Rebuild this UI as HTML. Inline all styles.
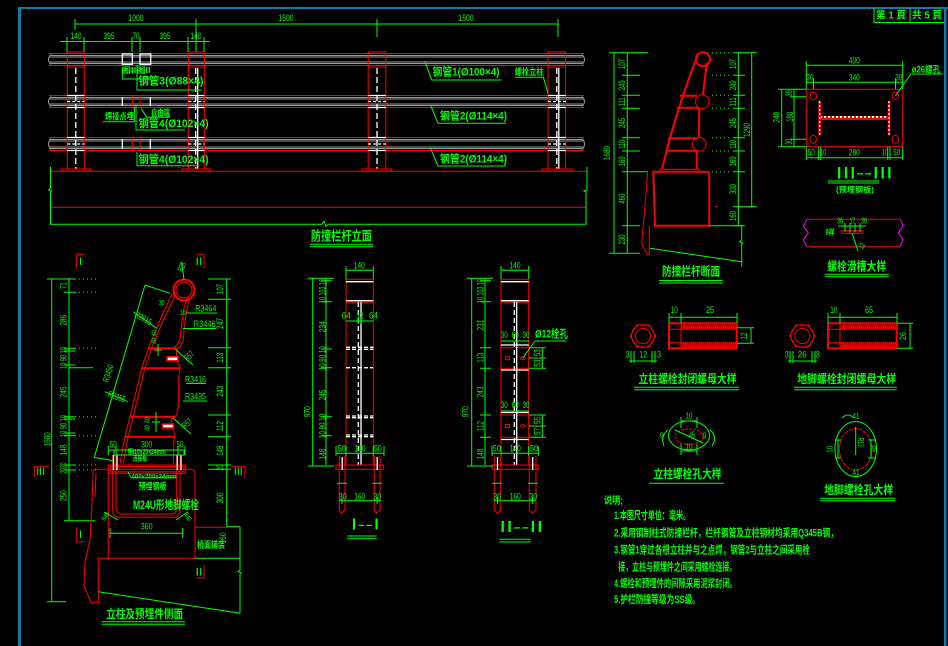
<!DOCTYPE html>
<html><head><meta charset="utf-8"><style>
html,body{margin:0;padding:0;background:#000;width:948px;height:646px;overflow:hidden}
svg{display:block}
text{font-family:"Liberation Sans","Noto Sans CJK SC",sans-serif;fill:#00ff00;dominant-baseline:central}
text.b{font-weight:bold}
.g{stroke:#00ff00;fill:none;stroke-width:1}
.r{stroke:#ff0000;fill:none;stroke-width:1}
.r2{stroke:#ff0000;fill:none;stroke-width:2}
.w{stroke:#ffffff;fill:none;stroke-width:1.3}
.gr{stroke:#9a9a9a;fill:none;stroke-width:1}
.m{text-anchor:middle}
</style></head><body>
<svg width="948" height="646" viewBox="0 0 948 646" xmlns="http://www.w3.org/2000/svg">
<defs>
<pattern id="h" width="2" height="2" patternUnits="userSpaceOnUse"><rect width="1" height="1" fill="#ff0000"/><rect x="1" y="1" width="1" height="1" fill="#ff0000"/></pattern>
<pattern id="hw" width="4" height="4" patternUnits="userSpaceOnUse"><rect width="4" height="4" fill="#ff0000"/><rect width="2" height="2" fill="#ffffff"/></pattern>
</defs>
<rect width="948" height="646" fill="#000"/>
<!-- frame -->
<rect x="18" y="7" width="930" height="2" fill="#1778a5"/>
<rect x="18" y="7" width="3" height="639" fill="#1778a5"/>
<rect x="944" y="7" width="2.5" height="639" fill="#1778a5"/>
<path class="g" d="M874,8 V22.5 H944 M910,8 V22.5"/>
<text x="891" y="16" class="m b" font-size="10" textLength="30" lengthAdjust="spacingAndGlyphs">第 1 頁</text>
<text x="927" y="16" class="m b" font-size="10" textLength="30" lengthAdjust="spacingAndGlyphs">共 5 頁</text>

<!-- ============ ELEVATION ============ -->
<path class="g" d="M75,24 H558 M75,19 V30 M196,19 V52 M377,19 V37 M558,19 V37"/>
<text x="136" y="18" class="m" font-size="9" textLength="15" lengthAdjust="spacingAndGlyphs">1000</text>
<text x="286" y="18" class="m" font-size="9" textLength="15" lengthAdjust="spacingAndGlyphs">1500</text>
<text x="466" y="18" class="m" font-size="9" textLength="15" lengthAdjust="spacingAndGlyphs">1500</text>
<path class="g" d="M60,41.5 H210 M67,37 V52 M84,37 V52 M132,37 V52 M140,37 V52 M188,37 V52 M204,37 V52"/>
<text x="76" y="36" class="m" font-size="9" textLength="11" lengthAdjust="spacingAndGlyphs">140</text>
<text x="109" y="36" class="m" font-size="9" textLength="11" lengthAdjust="spacingAndGlyphs">395</text>
<text x="136" y="36" class="m" font-size="9" textLength="7" lengthAdjust="spacingAndGlyphs">70</text>
<text x="165" y="36" class="m" font-size="9" textLength="11" lengthAdjust="spacingAndGlyphs">395</text>
<text x="196" y="36" class="m" font-size="9" textLength="11" lengthAdjust="spacingAndGlyphs">140</text>

<!-- rails -->
<g>
<path class="r" d="M49,53.5 H584 M49,65.5 H584 M49,95.5 H584 M49,107.5 H584 M49,137.5 H584 M49,150.5 H584"/>
<path class="gr" d="M50,55.5 H583 M50,57 H583 M50,62 H583 M50,63.5 H583 M50,97.5 H583 M50,99 H583 M50,104 H583 M50,105.5 H583 M50,139.5 H583 M50,141 H583 M50,147 H583 M50,148.5 H583"/>
<path class="gr" d="M51,54.5 Q46,59.5 51,64.5 M51,96.5 Q46,101.5 51,106.5 M51,138.5 Q46,144 51,149.5 M582,54.5 Q587,59.5 582,64.5 M582,96.5 Q587,101.5 582,106.5 M582,138.5 Q587,144 582,149.5"/>
</g>
<!-- junction -->
<rect x="132.3" y="53.5" width="7.7" height="12" fill="#000" class="r"/>
<rect x="132.3" y="95.5" width="7.7" height="12" fill="#000" class="r"/>
<rect x="132.3" y="137.5" width="7.7" height="13" fill="#000" class="r"/>
<rect x="122.3" y="54" width="10" height="10.3" class="w"/>
<rect x="140" y="54" width="10.7" height="10.3" class="w"/>
<path class="w" stroke-width="1" d="M122.3,97 V106 M150.3,97 V106 M122.3,139 V149 M150.3,139 V149"/>
<!-- posts -->
<g>
<rect x="67.3" y="52" width="17" height="117" fill="#000" class="r"/>
<rect x="188.3" y="52" width="16" height="117" fill="#000" class="r"/>
<rect x="368.2" y="52" width="17.6" height="117" fill="#000" class="r"/>
<rect x="548" y="52" width="17.6" height="117" fill="#000" class="r"/>
<path class="r" d="M67.3,67 H84.3 M188.3,67 H204.3 M368.2,67 H385.8 M548,67 H565.6"/>
<path class="w" stroke-width="1" d="M67.3,95.5 H84.3 M67.3,107.5 H84.3 M67.3,137.5 H84.3 M67.3,150.5 H84.3 M188.3,95.5 H204.3 M188.3,107.5 H204.3 M188.3,137.5 H204.3 M188.3,150.5 H204.3 M368.2,95.5 H385.8 M368.2,107.5 H385.8 M368.2,137.5 H385.8 M368.2,150.5 H385.8 M548,95.5 H565.6 M548,107.5 H565.6 M548,137.5 H565.6 M548,150.5 H565.6"/>
<path class="w" stroke-width="1.6" stroke-dasharray="3,2" d="M67.3,101.5 H84.3 M67.3,144 H84.3 M188.3,101.5 H204.3 M188.3,144 H204.3 M368.2,101.5 H385.8 M368.2,144 H385.8 M548,101.5 H565.6 M548,144 H565.6"/>
<path class="w" stroke-width="1.6" stroke-dasharray="6,3" d="M75.8,68 V169 M195.7,68 V169 M377,68 V169 M556.8,68 V169"/>
<path class="w" stroke-width="1" d="M197.7,68 V169 M558.8,68 V169"/>
<path class="r" d="M61,169 H90.7 V171 H61 Z M182,169 H210.5 V171 H182 Z M362,169 H392 V171 H362 Z M542,169 H572 V171 H542 Z"/>
</g>
<!-- ground -->
<path class="r" d="M50.5,171.3 H586 M50.5,207.3 H586"/>
<path class="g" d="M50.5,166.7 V188 l-2,2 l3,1 l-1,1 V224.3 H322 l2,-3 l2,5 l2,-2 H586 V192 l-2,-1 l3,-1 V166.7"/>
<!-- elevation labels -->
<path class="g" d="M424.8,61 L431.7,80 H501.4"/>
<text x="432.5" y="72.7" class="b" font-size="11" textLength="67" lengthAdjust="spacingAndGlyphs">钢管1(Ø100×4)</text>
<path class="g" d="M514.7,77.3 H543.4 L548,93.3"/>
<text x="514.7" y="72" class="b" font-size="9" textLength="29" lengthAdjust="spacingAndGlyphs">螺栓立柱</text>
<path class="g" d="M430.5,105 L438,123.3 H506"/>
<text x="440" y="116.7" class="b" font-size="11" textLength="67" lengthAdjust="spacingAndGlyphs">钢管2(Ø114×4)</text>
<path class="g" d="M430.5,148.3 L438,166 H506"/>
<text x="440" y="159.3" class="b" font-size="11" textLength="67" lengthAdjust="spacingAndGlyphs">钢管2(Ø114×4)</text>
<path class="g" d="M137,65 V90 H201.7"/>
<text x="138.5" y="81.7" class="b" font-size="11" textLength="65" lengthAdjust="spacingAndGlyphs">钢管3(Ø88×4)</text>
<text x="121.7" y="70.7" class="b" font-size="8" textLength="29" lengthAdjust="spacingAndGlyphs">图II图II</text>
<path class="g" d="M122.3,68 V79 H150"/>
<path class="g" d="M136,106 V130 H185"/>
<text x="138.5" y="124" class="b" font-size="11" textLength="70" lengthAdjust="spacingAndGlyphs">钢管4(Ø102×4)</text>
<path class="g" d="M141,108.3 L146.7,117.3 H170"/>
<text x="151" y="113" class="b" font-size="9" textLength="19" lengthAdjust="spacingAndGlyphs">自由端</text>
<path class="g" d="M134.3,106.7 V121.7 H103"/>
<text x="105" y="116.5" class="b" font-size="9" textLength="29" lengthAdjust="spacingAndGlyphs">焊接点埋</text>
<path class="g" d="M137,152 V165.7 H198"/>
<text x="138.5" y="160" class="b" font-size="11" textLength="70" lengthAdjust="spacingAndGlyphs">钢管4(Ø102×4)</text>
<text x="341.4" y="236" class="m b" font-size="13" textLength="61" lengthAdjust="spacingAndGlyphs">防撞栏杆立面</text>
<path class="g" stroke-width="1.5" d="M310,244.3 H373"/>
<path class="g" d="M310,246.8 H373"/>

<!-- ============ CROSS SECTION ============ -->
<path class="g" d="M614,52.7 V253.3 M609,52.7 H648 M609,253.3 H640 M627.3,52.7 V253.3"/>
<path class="g" d="M622,75.3 H640 M622,95.3 H640 M622,108.3 H640 M622,137.7 H640 M622,151 H640 M622,171.7 H648 M622,225.7 H640"/>
<path class="g" d="M733,52.7 H757 M733,75.3 H745 M733,95.3 H745 M733,108.3 H745 M733,137.7 H745 M733,151 H745 M733,171.7 H745 M733,206.7 H757 M733,225.7 H745 M738.3,52.7 V225.7 M751.7,52.7 V206.7"/>
<path class="g" stroke-dasharray="1,3" d="M712,52.7 H732 M712,75.3 H732 M712,95.3 H732 M712,108.3 H732 M712,137.7 H732 M712,151 H732 M712,171.7 H732"/>
<g font-size="9">
<text class="m" transform="translate(607,153) rotate(-90)" textLength="14" lengthAdjust="spacingAndGlyphs">1680</text>
<text class="m" transform="translate(622,64) rotate(-90)" textLength="10" lengthAdjust="spacingAndGlyphs">107</text>
<text class="m" transform="translate(622,85.3) rotate(-90)" textLength="10" lengthAdjust="spacingAndGlyphs">249</text>
<text class="m" transform="translate(622,101.8) rotate(-90)" textLength="9" lengthAdjust="spacingAndGlyphs">111</text>
<text class="m" transform="translate(622,123) rotate(-90)" textLength="10" lengthAdjust="spacingAndGlyphs">245</text>
<text class="m" transform="translate(622,144.3) rotate(-90)" textLength="9" lengthAdjust="spacingAndGlyphs">110</text>
<text class="m" transform="translate(622,161.3) rotate(-90)" textLength="10" lengthAdjust="spacingAndGlyphs">169</text>
<text class="m" transform="translate(622,198.7) rotate(-90)" textLength="10" lengthAdjust="spacingAndGlyphs">460</text>
<text class="m" transform="translate(622,239.5) rotate(-90)" textLength="10" lengthAdjust="spacingAndGlyphs">230</text>
<text class="m" transform="translate(733,64) rotate(-90)" textLength="10" lengthAdjust="spacingAndGlyphs">107</text>
<text class="m" transform="translate(733,85.3) rotate(-90)" textLength="10" lengthAdjust="spacingAndGlyphs">249</text>
<text class="m" transform="translate(733,101.8) rotate(-90)" textLength="9" lengthAdjust="spacingAndGlyphs">111</text>
<text class="m" transform="translate(733,123) rotate(-90)" textLength="10" lengthAdjust="spacingAndGlyphs">245</text>
<text class="m" transform="translate(733,144.3) rotate(-90)" textLength="9" lengthAdjust="spacingAndGlyphs">110</text>
<text class="m" transform="translate(733,161.3) rotate(-90)" textLength="10" lengthAdjust="spacingAndGlyphs">169</text>
<text class="m" transform="translate(733,189) rotate(-90)" textLength="10" lengthAdjust="spacingAndGlyphs">300</text>
<text class="m" transform="translate(733,216) rotate(-90)" textLength="10" lengthAdjust="spacingAndGlyphs">160</text>
<text class="m" transform="translate(747,130) rotate(-90)" textLength="14" lengthAdjust="spacingAndGlyphs">1290</text>
</g>
<!-- post shape -->
<circle cx="703" cy="59.3" r="7" class="r2"/>
<circle cx="702.3" cy="101.7" r="6.8" class="r"/>
<circle cx="699.3" cy="144.3" r="6.8" class="r"/>
<path class="r2" d="M697.7,55 Q676,110 662,169.3"/>
<path class="r2" d="M706.7,62.7 L703,95 M699.3,108.3 L698.7,137.7 M696.7,150.5 V169.3"/>
<path class="r2" d="M680,95.7 H697 M676.7,107.7 H699 M667.7,138.3 H697 M666,150.7 H697"/>
<rect x="660" y="169.3" width="39.3" height="2.4" class="r"/>
<path class="r2" d="M653.3,171.7 H707 Q709.3,172 709.3,175 V225.7 H655 Z"/>
<path class="r" d="M647.7,171.7 L645,205 L641.7,243.3 L646.7,254.3 H649.3 V225.7"/>
<path class="r" d="M715,206.7 H718"/>
<path class="g" d="M709.3,225.7 H741.7 V240 l-2,1.5 l3,1.5 l-1,1 V266.7 M650,248.3 L741.7,261.7"/>
<text x="691" y="271.7" class="m b" font-size="12" textLength="58" lengthAdjust="spacingAndGlyphs">防撞栏杆断面</text>
<path class="g" stroke-width="1.5" d="M659,280.5 H722.7"/>
<path class="g" d="M659,283 H722.7"/>

<!-- ============ III-III ============ -->
<rect x="806.3" y="89.3" width="96.4" height="57.4" class="r"/>
<ellipse cx="813.3" cy="96" rx="3.2" ry="4" class="r"/>
<ellipse cx="895.3" cy="96" rx="3.2" ry="4" class="r"/>
<ellipse cx="813.3" cy="139.3" rx="3.2" ry="4" class="r"/>
<ellipse cx="895.3" cy="139.3" rx="3.2" ry="4" class="r"/>
<rect x="818.3" y="101" width="2.6" height="33.7" fill="#ff0000"/>
<rect x="887.7" y="101" width="2.6" height="33.7" fill="#ff0000"/>
<path class="w" stroke-width="1" stroke-dasharray="2,2" d="M819.6,101 V134.7 M889,101 V134.7"/>
<rect x="820.9" y="116" width="66.8" height="4" fill="url(#hw)"/>
<path class="g" d="M806.3,65.3 H902.7 M806.3,61 V89 M902.7,61 V89 M806.3,82.3 H902.7 M813.5,78 V89 M895.5,78 V89"/>
<g font-size="9">
<text x="854.3" y="60.7" class="m" textLength="11" lengthAdjust="spacingAndGlyphs">400</text>
<text x="810" y="77.3" class="m" textLength="7" lengthAdjust="spacingAndGlyphs">30</text>
<text x="854.3" y="77.3" class="m" textLength="11" lengthAdjust="spacingAndGlyphs">340</text>
<text x="898.7" y="77.3" class="m" textLength="7" lengthAdjust="spacingAndGlyphs">30</text>
<text x="811.3" y="152.7" class="m" textLength="7" lengthAdjust="spacingAndGlyphs">50</text>
<text x="823.3" y="152.7" class="m" textLength="6" lengthAdjust="spacingAndGlyphs">10</text>
<text x="854.3" y="152.7" class="m" textLength="11" lengthAdjust="spacingAndGlyphs">280</text>
<text x="885" y="152.7" class="m" textLength="6" lengthAdjust="spacingAndGlyphs">10</text>
<text x="896.7" y="152.7" class="m" textLength="7" lengthAdjust="spacingAndGlyphs">50</text>
<text class="m" transform="translate(776.7,117.3) rotate(-90)" textLength="11" lengthAdjust="spacingAndGlyphs">240</text>
<text class="m" transform="translate(789,93.3) rotate(-90)" textLength="6" lengthAdjust="spacingAndGlyphs">30</text>
<text class="m" transform="translate(790,116.7) rotate(-90)" textLength="10" lengthAdjust="spacingAndGlyphs">180</text>
<text class="m" transform="translate(789,141.7) rotate(-90)" textLength="6" lengthAdjust="spacingAndGlyphs">30</text>
</g>
<path class="g" d="M806.3,157.7 H902.7 M806.3,146.7 V160 M818.3,146.7 V160 M820.7,146.7 V160 M887.7,146.7 V160 M890,146.7 V160 M902.7,146.7 V160"/>
<path class="g" d="M781.7,89.3 V146.7 M778,89.3 H806.3 M778,146.7 H806.3 M794,89.3 V146.7 M790,96.7 H806 M790,139.3 H806"/>
<path class="g" d="M895.3,96 L911,74 H942.7"/>
<text x="911.7" y="69.3" class="b" font-size="9" textLength="29" lengthAdjust="spacingAndGlyphs">ø26螺孔</text>
<text x="864.3" y="173" class="m" font-size="17" textLength="57" lengthAdjust="spacingAndGlyphs">III--III</text>
<path class="g" stroke-width="1.5" d="M828,181 H879.3"/>
<path class="g" d="M828,183 H879.3"/>
<text x="855" y="190" class="m b" font-size="8" textLength="38" lengthAdjust="spacingAndGlyphs">(预埋钢板)</text>

<!-- bolt slot -->
<path class="r" d="M807,219.3 H900 M807,246.7 H900"/>
<path stroke="#ff00ff" fill="none" d="M807,219.3 L803.3,226 L808.3,233 L803.3,240 L807,246.7 M900,219.3 L903.3,226 L898.3,233 L903.3,240 L900,246.7"/>
<rect x="841.7" y="230.7" width="21" height="2.6" class="r"/>
<ellipse cx="852" cy="232" rx="2.5" ry="1.5" class="r"/>
<path class="g" d="M845,223 V232 M850,223 V232 M855,223 V232 M860,223 V232 M838,226 H866 M852,233 L858,251"/>
<g font-size="8">
<text x="840" y="221" class="m" textLength="6" lengthAdjust="spacingAndGlyphs">36</text>
<text x="852.5" y="221" class="m" textLength="6" lengthAdjust="spacingAndGlyphs">17</text>
<text x="864" y="221" class="m" textLength="6" lengthAdjust="spacingAndGlyphs">36</text>
<text x="830" y="232.7" class="m b" textLength="9" lengthAdjust="spacingAndGlyphs">9样</text>
<text class="m" transform="translate(862,246) rotate(-60)" textLength="6" lengthAdjust="spacingAndGlyphs">12</text>
</g>
<text x="856.7" y="266.7" class="m b" font-size="12" textLength="59" lengthAdjust="spacingAndGlyphs">螺栓滑槽大样</text>
<path class="g" stroke-width="1.5" d="M825,274.3 H889"/>
<path class="g" d="M825,276.8 H889"/>

<!-- ============ NUT DETAILS ============ -->
<g>
<polygon class="r" points="655.7,336 649.3,347 636.7,347 630.3,336 636.7,325 649.3,325"/>
<circle cx="643" cy="336" r="11.5" class="r"/>
<circle cx="643" cy="336" r="7.5" class="r"/>
<rect x="669" y="323.3" width="67.7" height="25" class="r2"/>
<rect x="681" y="324.5" width="55" height="4.3" fill="url(#h)"/>
<rect x="681" y="343" width="55" height="4.3" fill="url(#h)"/>
<path class="r" d="M681,323.3 V348.3 M669,329.3 H736.7 M669,342.7 H736.7"/>
<path class="g" d="M669,317.3 H737 M669,313 V323 M681,313 V323 M737,313 V323 M751,327.7 V343.3 M737,327.7 H754 M737,343.3 H754 M629,361 H657 M631,351 V363 M634,351 V363 M652,351 V363 M655,351 V363"/>
<g font-size="9">
<text x="674.3" y="310" class="m" textLength="7" lengthAdjust="spacingAndGlyphs">10</text>
<text x="710" y="310" class="m" textLength="8" lengthAdjust="spacingAndGlyphs">25</text>
<text class="m" transform="translate(744,336) rotate(-90)" textLength="7" lengthAdjust="spacingAndGlyphs">12</text>
<text x="627.7" y="354.7" class="m" textLength="4" lengthAdjust="spacingAndGlyphs">3</text>
<text x="643.3" y="354.7" class="m" textLength="8" lengthAdjust="spacingAndGlyphs">12</text>
<text x="659" y="354.7" class="m" textLength="4" lengthAdjust="spacingAndGlyphs">3</text>
</g>
<text x="687.5" y="379" class="m b" font-size="12" textLength="98" lengthAdjust="spacingAndGlyphs">立柱螺栓封闭螺母大样</text>
<path class="g" stroke-width="1.5" d="M634,387.3 H739"/>
<path class="g" d="M634,389.8 H739"/>
</g>
<g>
<polygon class="r" points="815,336 808.7,347 796,347 789.7,336 796,325 808.7,325"/>
<circle cx="802.3" cy="336" r="11.5" class="r"/>
<circle cx="802.3" cy="336" r="7.5" class="r"/>
<rect x="828" y="323.3" width="68.7" height="25" class="r2"/>
<rect x="840" y="324.5" width="56" height="4.3" fill="url(#h)"/>
<rect x="840" y="343" width="56" height="4.3" fill="url(#h)"/>
<path class="r" d="M840,323.3 V348.3 M828,329.3 H896.7 M828,342.7 H896.7"/>
<path class="g" d="M828,317.3 H897 M828,313 V323 M840,313 V323 M897,313 V323 M910,323.3 V348.3 M897,323.3 H913 M897,348.3 H913 M788,361 H817 M790,351 V363 M793,351 V363 M812,351 V363 M815,351 V363"/>
<g font-size="9">
<text x="833.7" y="310" class="m" textLength="7" lengthAdjust="spacingAndGlyphs">10</text>
<text x="869" y="310" class="m" textLength="8" lengthAdjust="spacingAndGlyphs">65</text>
<text class="m" transform="translate(903,336) rotate(-90)" textLength="8" lengthAdjust="spacingAndGlyphs">26</text>
<text x="786.7" y="354.7" class="m" textLength="4" lengthAdjust="spacingAndGlyphs">3</text>
<text x="802.3" y="354.7" class="m" textLength="9" lengthAdjust="spacingAndGlyphs">26</text>
<text x="817.7" y="354.7" class="m" textLength="4" lengthAdjust="spacingAndGlyphs">3</text>
</g>
<text x="846.7" y="379" class="m b" font-size="12" textLength="99" lengthAdjust="spacingAndGlyphs">地脚螺栓封闭螺母大样</text>
<path class="g" stroke-width="1.5" d="M794,387.3 H896.7"/>
<path class="g" d="M794,389.8 H896.7"/>
</g>

<!-- ============ HOLE DETAILS ============ -->
<ellipse cx="689" cy="435.5" rx="20.5" ry="14.5" class="g"/>
<ellipse cx="689" cy="436.7" rx="14" ry="7.7" class="r" stroke-dasharray="3,1"/>
<path class="g" d="M681,421 H697 M681,417 V428 M697,417 V428 M681,451 H697 M681,444 V455 M697,444 V455 M675,430 L703,443 M668,430 Q660,436 664,446 M710,430 Q718,436 712,446"/>
<g font-size="8">
<text x="689" y="416" class="m" textLength="7" lengthAdjust="spacingAndGlyphs">10</text>
<text x="689" y="447" class="m" textLength="7" lengthAdjust="spacingAndGlyphs">10</text>
<text x="692" y="435" class="m" textLength="6" lengthAdjust="spacingAndGlyphs">45</text>
<text x="661.7" y="436" class="m" textLength="4" lengthAdjust="spacingAndGlyphs">9</text>
<text x="704.5" y="436" class="m" textLength="4" lengthAdjust="spacingAndGlyphs">9</text>
</g>
<text x="687.5" y="474" class="m b" font-size="12" textLength="68" lengthAdjust="spacingAndGlyphs">立柱螺栓孔大样</text>
<path class="g" stroke-width="2.5" d="M649,483.3 H724"/>

<ellipse cx="855.7" cy="449" rx="20.8" ry="27.5" class="g"/>
<ellipse cx="855.7" cy="449.3" rx="16.2" ry="20.8" class="r" stroke-dasharray="4,1"/>
<path class="g" d="M855.7,426.7 V455 M842,418 Q848,412 854,418 M838,440 V458 M835,440 H841 M835,458 H841 M871,440 V458 M868,440 H876 M868,458 H876"/>
<g font-size="8">
<text x="856" y="416.7" class="m" textLength="7" lengthAdjust="spacingAndGlyphs">41</text>
<text x="856" y="472.7" class="m" textLength="7" lengthAdjust="spacingAndGlyphs">41</text>
<text class="m" transform="translate(830,449.3) rotate(-90)" textLength="7" lengthAdjust="spacingAndGlyphs">10</text>
<text x="874" y="449" class="m" textLength="4" lengthAdjust="spacingAndGlyphs">9</text>
<text class="m" transform="translate(860.5,442.3) rotate(90)" textLength="9" lengthAdjust="spacingAndGlyphs">R13</text>
</g>
<text x="858.7" y="490" class="m b" font-size="12" textLength="69" lengthAdjust="spacingAndGlyphs">地脚螺栓孔大样</text>
<path class="g" stroke-width="1.5" d="M820,498.3 H895"/>
<path class="g" d="M820,500.8 H895"/>

<!-- ============ NOTES ============ -->
<text x="604" y="501.7" class="b" font-size="10" textLength="19" lengthAdjust="spacingAndGlyphs">说明;</text>
<g font-size="11">
<text x="614" y="516" class="b" textLength="76" lengthAdjust="spacingAndGlyphs">1.本图尺寸单位：毫米。</text>
<text x="614" y="533.3" class="b" textLength="224" lengthAdjust="spacingAndGlyphs">2.采用钢制柱式防撞栏杆，栏杆钢管及立柱钢材均采用Q345B钢，</text>
<text x="614" y="550.3" class="b" textLength="196" lengthAdjust="spacingAndGlyphs">3.钢管1穿过各根立柱并与之点焊，钢管2与立柱之间采用栓</text>
<text x="618.3" y="567.7" class="b" textLength="118" lengthAdjust="spacingAndGlyphs">接，立柱与预埋件之间采用螺栓连接。</text>
<text x="614" y="584" class="b" textLength="123" lengthAdjust="spacingAndGlyphs">4.螺栓和预埋件的间隙采用泥浆封闭。</text>
<text x="614" y="600" class="b" textLength="86" lengthAdjust="spacingAndGlyphs">5.护栏防撞等级为SS级。</text>
</g>

<!-- ============ I-I SECTION ============ -->
<g>
<rect x="346" y="279.3" width="27.3" height="185.7" class="r"/>
<path class="w" d="M346,281.7 H373.3 M346,300.7 H373.3"/>
<path class="r" d="M346,302.3 H373.3"/>
<path class="w" stroke-dasharray="5,3" d="M358.3,302 V465"/>
<path class="w" stroke-width="1" d="M361,302 V465"/>
<path class="w" stroke-dasharray="4,2" d="M346,347.3 H373.3 M346,349.3 H373.3 M346,416 H373.3 M346,417.7 H373.3 M346,435 H373.3 M346,436.7 H373.3"/>
<path class="w" stroke-width="2" stroke-dasharray="4,2" d="M346,367.7 H373.3"/>
<rect x="336" y="465" width="47.7" height="4.3" class="r"/>
<path class="r" d="M339.3,456 V510 L341.5,513.3 L345,510 V456 M374.3,456 V510 L376.5,513.3 L380,510 V456"/>
<path class="w" d="M342.2,457 V470 M377.2,457 V470"/>
<path class="g" stroke-width="2" d="M337,483.3 H347 M372,483.3 H382"/>
<path class="g" d="M346,270.3 H373.3 M346,266 V279 M373.3,266 V279 M346,321 H373.3 M358.3,318 V324 M361,318 V324 M336,453.3 H384 M336,446 V456 M346,446 V456 M373.3,446 V456 M384,446 V456 M339,500.7 H381 M342,497 V504 M377,497 V504"/>
<path class="g" d="M312.7,278.3 V466 M308,278.3 H334 M308,466 H334 M326,278.3 V465 M321,280.7 H332 M321,301.7 H332 M321,349 H332 M321,367.7 H332 M321,416.7 H332 M321,435.7 H332"/>
<g font-size="9">
<text x="359.3" y="265.3" class="m" textLength="11" lengthAdjust="spacingAndGlyphs">140</text>
<text x="346.3" y="315.7" class="m" textLength="9" lengthAdjust="spacingAndGlyphs">64</text>
<text x="360" y="315.7" class="m" textLength="7" lengthAdjust="spacingAndGlyphs">12</text>
<text x="373.5" y="315.7" class="m" textLength="9" lengthAdjust="spacingAndGlyphs">64</text>
<text x="341.7" y="448.7" class="m" textLength="8" lengthAdjust="spacingAndGlyphs">50</text>
<text x="360" y="448.7" class="m" textLength="11" lengthAdjust="spacingAndGlyphs">140</text>
<text x="377.7" y="448.7" class="m" textLength="8" lengthAdjust="spacingAndGlyphs">50</text>
<text x="342.7" y="496.7" class="m" textLength="8" lengthAdjust="spacingAndGlyphs">30</text>
<text x="359.7" y="496.7" class="m" textLength="11" lengthAdjust="spacingAndGlyphs">160</text>
<text x="377.3" y="496.7" class="m" textLength="8" lengthAdjust="spacingAndGlyphs">30</text>
<text class="m" transform="translate(307.3,411.7) rotate(-90)" textLength="11" lengthAdjust="spacingAndGlyphs">970</text>
<text class="m" transform="translate(322.3,291) rotate(-90)" textLength="24" lengthAdjust="spacingAndGlyphs">10 103 10</text>
<text class="m" transform="translate(322.3,326.7) rotate(-90)" textLength="11" lengthAdjust="spacingAndGlyphs">234</text>
<text class="m" transform="translate(322.3,358.3) rotate(-90)" textLength="24" lengthAdjust="spacingAndGlyphs">10 90 10</text>
<text class="m" transform="translate(322.3,395) rotate(-90)" textLength="11" lengthAdjust="spacingAndGlyphs">245</text>
<text class="m" transform="translate(322.3,426) rotate(-90)" textLength="24" lengthAdjust="spacingAndGlyphs">10 90 10</text>
<text class="m" transform="translate(322.3,454) rotate(-90)" textLength="11" lengthAdjust="spacingAndGlyphs">148</text>
</g>
<text x="365.3" y="525" class="m" font-size="16" textLength="29" lengthAdjust="spacingAndGlyphs">I--I</text>
<path class="g" stroke-width="2" d="M347.3,536 H376.7"/>
<path class="g" d="M347.3,538.8 H376.7"/>
</g>

<!-- ============ II-II SECTION ============ -->
<g>
<rect x="501" y="279.3" width="27.7" height="185.7" class="r"/>
<path class="w" d="M501,281.7 H528.7 M501,300.7 H528.7 M501,345 H528.7 M501,370 H528.7 M501,412.5 H528.7 M501,439.5 H528.7"/>
<path class="r" d="M501,302.3 H528.7 M501,347.7 H528.7 M501,368.3 H528.7 M501,415 H528.7 M501,437.3 H528.7"/>
<path class="w" stroke-dasharray="5,3" d="M514.3,302 V465"/>
<path class="w" stroke-width="1" d="M516.7,302 V465"/>
<rect x="505.5" y="356.8" width="4" height="3" class="r"/>
<ellipse cx="522.7" cy="358.3" rx="2.2" ry="1.3" class="r"/>
<rect x="505.5" y="424.5" width="4" height="3" class="r"/>
<ellipse cx="522.7" cy="426" rx="2.2" ry="1.3" class="r"/>
<rect x="492" y="465" width="46.3" height="4.3" class="r"/>
<path class="r" d="M494.3,456 V510 L497.5,513.3 L500.7,510 V456 M529.3,456 V510 L532.5,513.3 L536,510 V456"/>
<path class="w" d="M497.5,457 V470 M532.7,457 V470"/>
<path class="g" stroke-width="2" d="M492,483.3 H502 M528,483.3 H538"/>
<path class="g" d="M501,270.3 H528.7 M501,266 V279 M528.7,266 V279 M501,341 H528.7 M501,411 H528.7 M492,453.3 H538.3 M492,446 V456 M501,446 V456 M528.7,446 V456 M538.3,446 V456 M494,500.7 H536 M497.5,497 V504 M532.7,497 V504"/>
<path class="g" d="M529,347.7 H546 M529,358 H546 M529,368.3 H546 M542.3,347.7 V368.3 M529,415 H546 M529,426 H546 M529,437.3 H546 M542.3,415 V437.3 M535,341 H566.7 M535,341 L522.7,358.3"/>
<path class="g" d="M471.7,278.3 V466 M467,278.3 H493 M467,466 H493 M485,278.3 V465 M480,280.7 H491 M480,301.7 H491 M480,347.7 H491 M480,368.3 H491 M480,415 H491 M480,437.3 H491"/>
<g font-size="9">
<text x="515" y="265.3" class="m" textLength="11" lengthAdjust="spacingAndGlyphs">140</text>
<text x="504.3" y="335" class="m" textLength="7" lengthAdjust="spacingAndGlyphs">30</text>
<text x="515.3" y="335" class="m" textLength="7" lengthAdjust="spacingAndGlyphs">60</text>
<text x="526" y="335" class="m" textLength="7" lengthAdjust="spacingAndGlyphs">30</text>
<text x="504.3" y="405" class="m" textLength="7" lengthAdjust="spacingAndGlyphs">30</text>
<text x="515.3" y="405" class="m" textLength="7" lengthAdjust="spacingAndGlyphs">60</text>
<text x="526" y="405" class="m" textLength="7" lengthAdjust="spacingAndGlyphs">30</text>
<text x="535" y="334.3" class="b" font-size="11" textLength="33" lengthAdjust="spacingAndGlyphs">Ø12栓孔</text>
<text class="m" transform="translate(537.3,352.8) rotate(-90)" textLength="7" lengthAdjust="spacingAndGlyphs">53</text>
<text class="m" transform="translate(537.3,363.3) rotate(-90)" textLength="7" lengthAdjust="spacingAndGlyphs">53</text>
<text class="m" transform="translate(537.3,420.5) rotate(-90)" textLength="7" lengthAdjust="spacingAndGlyphs">55</text>
<text class="m" transform="translate(537.3,431.5) rotate(-90)" textLength="7" lengthAdjust="spacingAndGlyphs">57</text>
<text x="496.7" y="448.7" class="m" textLength="8" lengthAdjust="spacingAndGlyphs">50</text>
<text x="515.3" y="448.7" class="m" textLength="11" lengthAdjust="spacingAndGlyphs">140</text>
<text x="534" y="448.7" class="m" textLength="8" lengthAdjust="spacingAndGlyphs">50</text>
<text x="497.3" y="496.7" class="m" textLength="8" lengthAdjust="spacingAndGlyphs">30</text>
<text x="515.3" y="496.7" class="m" textLength="11" lengthAdjust="spacingAndGlyphs">160</text>
<text x="533.3" y="496.7" class="m" textLength="8" lengthAdjust="spacingAndGlyphs">30</text>
<text class="m" transform="translate(465.7,411.7) rotate(-90)" textLength="11" lengthAdjust="spacingAndGlyphs">970</text>
<text class="m" transform="translate(480.7,291) rotate(-90)" textLength="24" lengthAdjust="spacingAndGlyphs">10 103 10</text>
<text class="m" transform="translate(480.7,325) rotate(-90)" textLength="11" lengthAdjust="spacingAndGlyphs">231</text>
<text class="m" transform="translate(480.7,357.7) rotate(-90)" textLength="10" lengthAdjust="spacingAndGlyphs">113</text>
<text class="m" transform="translate(480.7,392) rotate(-90)" textLength="11" lengthAdjust="spacingAndGlyphs">243</text>
<text class="m" transform="translate(480.7,426) rotate(-90)" textLength="10" lengthAdjust="spacingAndGlyphs">112</text>
<text class="m" transform="translate(480.7,454) rotate(-90)" textLength="11" lengthAdjust="spacingAndGlyphs">148</text>
</g>
<text x="521.3" y="527.7" class="m" font-size="16" textLength="44" lengthAdjust="spacingAndGlyphs">II--II</text>
<path class="g" stroke-width="2" d="M499.3,539.3 H530.7"/>
<path class="g" d="M499.3,542 H530.7"/>
</g>

<!-- ============ SIDE VIEW ============ -->
<g>
<path class="g" d="M51.7,279 V601.7 M47,279 H75 M47,601.7 H66 M69,279 V520.7"/>
<path class="g" d="M64,292.3 H75 M64,348.3 H75 M64,351 H75 M64,365 H75 M64,416.7 H75 M64,419 H75 M64,433 H75 M64,435.7 H75 M64,465 H75 M64,470 H75 M64,520.7 H95"/>
<path class="g" stroke-width="2" d="M69,367.7 H93"/>
<path class="g" stroke-dasharray="1,3" d="M75,279 H97 M75,292.3 H97 M75,348.3 H97 M75,416.7 H97 M75,435.7 H97 M75,465 H97 M75,470 H97"/>
<path class="g" d="M226.7,279 V526.7 M240,526.7 V570 l-2,1.5 l3,1.5 l-1,1 V613.3"/>
<path class="g" d="M208,279 H231 M208,299.3 H231 M208,347.7 H231 M208,367.7 H231 M208,415 H231 M208,436.7 H231 M208,465 H231 M208,469.3 H231"/>
<g font-size="9">
<text class="m" transform="translate(47.7,439.3) rotate(-90)" textLength="14" lengthAdjust="spacingAndGlyphs">1680</text>
<text class="m" transform="translate(63.3,285.7) rotate(-90)" textLength="7" lengthAdjust="spacingAndGlyphs">71</text>
<text class="m" transform="translate(63.3,320.3) rotate(-90)" textLength="11" lengthAdjust="spacingAndGlyphs">286</text>
<text class="m" transform="translate(63.3,358) rotate(-90)" textLength="22" lengthAdjust="spacingAndGlyphs">10 90 10</text>
<text class="m" transform="translate(63.3,392) rotate(-90)" textLength="11" lengthAdjust="spacingAndGlyphs">245</text>
<text class="m" transform="translate(63.3,426) rotate(-90)" textLength="22" lengthAdjust="spacingAndGlyphs">10 90 10</text>
<text class="m" transform="translate(63.3,450) rotate(-90)" textLength="11" lengthAdjust="spacingAndGlyphs">148</text>
<text class="m" transform="translate(63.3,468) rotate(-90)" textLength="11" lengthAdjust="spacingAndGlyphs">2020</text>
<text class="m" transform="translate(63.3,495.7) rotate(-90)" textLength="11" lengthAdjust="spacingAndGlyphs">250</text>
<text class="m" transform="translate(220,289) rotate(-90)" textLength="10" lengthAdjust="spacingAndGlyphs">107</text>
<text class="m" transform="translate(220,323.5) rotate(-90)" textLength="11" lengthAdjust="spacingAndGlyphs">247</text>
<text class="m" transform="translate(220,357.7) rotate(-90)" textLength="10" lengthAdjust="spacingAndGlyphs">113</text>
<text class="m" transform="translate(220,391.3) rotate(-90)" textLength="11" lengthAdjust="spacingAndGlyphs">243</text>
<text class="m" transform="translate(220,426) rotate(-90)" textLength="10" lengthAdjust="spacingAndGlyphs">112</text>
<text class="m" transform="translate(220,450.8) rotate(-90)" textLength="10" lengthAdjust="spacingAndGlyphs">148</text>
<text class="m" transform="translate(220,467.5) rotate(-90)" textLength="6" lengthAdjust="spacingAndGlyphs">20</text>
<text class="m" transform="translate(220,498) rotate(-90)" textLength="11" lengthAdjust="spacingAndGlyphs">300</text>
<text class="m" transform="translate(223,538) rotate(-90)" textLength="11" lengthAdjust="spacingAndGlyphs">160</text>
</g>
<circle cx="184" cy="290" r="10.5" class="r2"/>
<circle cx="184" cy="290" r="8" class="r"/>
<path class="r" stroke-width="1.3" d="M172.3,293.3 L160,320 L148.3,348.3 L141.7,368.3 L130,416.7 L125,436.7 L120,463.3"/>
<path class="r" stroke-width="1.3" d="M175.5,295 L163,321 L151.5,348.3 L144.9,368.3 L133.2,416.7 L128.2,436.7 L123.2,463.3"/>
<path class="r" stroke-width="1.3" d="M190,298.3 L186.7,310 L184.3,326.7 L183.3,340 L180,347.3 L176.7,349.3 L176,360 L180,366.7 L180,370 L178.7,376.7 L178.3,406.7 L176.7,415 L171.7,418.3 L171.7,426.7 L175,433.3 L174,440 L173.3,463.3"/>
<path class="r" stroke-width="1.3" d="M187,297 L183.7,310 L181.3,326.7 L180.3,338 L177,345 L173.7,348"/>
<path class="r2" d="M148.3,348.3 H176.7 M141.7,368.3 H180 M130,416.7 H176 M125,436.7 H174"/>
<rect x="167" y="356.8" width="11" height="4" fill="#fff" stroke="#f00" stroke-width="1.5"/>
<rect x="162.5" y="424" width="11" height="4" fill="#fff" stroke="#f00" stroke-width="1.5"/>
<path class="g" d="M158,344 V356 M154,350 H162 M156,412 V432 M152,422 H160"/>
<path class="r" d="M93.3,469.3 H191 Q195,469.3 195,474 V558.3 M93.3,469.3 L91.7,510 L90,540 L85,562 L84,585 L88.3,596 L91,602.7 H98.3 V558.3 H195"/>
<path class="r" d="M96,473 L95,497 M108.3,473 V558.3"/>
<path class="r" d="M195,527.3 H226.7"/>
<path class="g" d="M195,558.3 H240 M98.3,591.7 L240,613.3 M226.7,526.7 H240"/>
<rect x="108.3" y="465" width="77.4" height="8.3" class="r"/>
<rect x="110" y="466.5" width="74" height="5.3" class="r"/>
<path class="r" d="M112.7,455 V510 Q112.7,517.3 120,517.3 H173 Q180,517.3 180,510 V455 M116,455 V507 Q116,514 122,514 H171 Q176.7,514 176.7,507 V455"/>
<path class="w" d="M113.5,455 V470 M117,455 V470 M177.3,455 V470 M181,455 V470"/>
<path class="g" d="M108.3,450 H185 M108.3,446 V455 M116,446 V455 M178,446 V455 M185,446 V455 M110,533.3 H182.7 M110,528 V538 M182.7,528 V538 M104,512 L118,520 M188,512 L176,520 M131,477.7 H176.7 M131,477.7 L128,472"/>
<rect x="114" y="450" width="70" height="5" class="g"/>
<g font-size="9">
<text x="113.3" y="444.3" class="m" textLength="7" lengthAdjust="spacingAndGlyphs">50</text>
<text x="146.7" y="444.3" class="m" textLength="11" lengthAdjust="spacingAndGlyphs">300</text>
<text x="180" y="444.3" class="m" textLength="7" lengthAdjust="spacingAndGlyphs">50</text>
<text x="146.7" y="452.5" class="m b" font-size="7" textLength="38" lengthAdjust="spacingAndGlyphs">钢I10x20x24mm</text>
<text x="140" y="459" class="m b" font-size="7" textLength="14" lengthAdjust="spacingAndGlyphs">连接板</text>
<text x="154" y="477.7" class="m b" font-size="6" textLength="45" lengthAdjust="spacingAndGlyphs">400x700x24mm</text>
<text x="152.5" y="486.7" class="m b" textLength="28" lengthAdjust="spacingAndGlyphs">预埋钢板</text>
<text x="166" y="505" class="m b" font-size="12" textLength="66" lengthAdjust="spacingAndGlyphs">M24U形地脚螺栓</text>
<text x="146.7" y="526.7" class="m" textLength="12" lengthAdjust="spacingAndGlyphs">360</text>
<text x="211" y="545" class="m b" textLength="28" lengthAdjust="spacingAndGlyphs">桥面铺装</text>
<text class="m" transform="translate(106,517) rotate(-55)" font-size="7" textLength="9" lengthAdjust="spacingAndGlyphs">R40</text>
<text class="m" transform="translate(187,517) rotate(55)" font-size="7" textLength="9" lengthAdjust="spacingAndGlyphs">R40</text>
</g>
<path class="g" d="M145,285 L94.3,457.3 M145,285 L170,293.3 M94.3,457.3 L113.3,460.7 M133.3,311.7 L156.7,328.3 M105,391.7 L127.7,401.7 M181.7,262 L184,280"/>
<path class="g" d="M186,313 H217 M183,328.5 H216 M186,383.5 H206 M183,401 H207 M175,349 L193,365 M173,418 L191,434"/>
<g font-size="9">
<text class="m" transform="translate(143.3,318.3) rotate(30)" textLength="18" lengthAdjust="spacingAndGlyphs">R2815</text>
<text class="m" transform="translate(108.3,373.3) rotate(-72)" textLength="18" lengthAdjust="spacingAndGlyphs">R3450</text>
<text class="m" transform="translate(116.7,396.7) rotate(20)" textLength="18" lengthAdjust="spacingAndGlyphs">R2355</text>
<text class="m" transform="translate(181.7,266.7) rotate(-70)" textLength="9" lengthAdjust="spacingAndGlyphs">R28</text>
<text x="161.7" y="303.3" class="m" font-size="7" textLength="6" lengthAdjust="spacingAndGlyphs">30</text>
<text x="182.7" y="313.3" class="m" font-size="7" textLength="6" lengthAdjust="spacingAndGlyphs">10</text>
<text x="205.8" y="308.3" class="m" textLength="21" lengthAdjust="spacingAndGlyphs">R3464</text>
<text x="204.7" y="324" class="m" textLength="22" lengthAdjust="spacingAndGlyphs">R3446</text>
<text class="m" transform="translate(189,356) rotate(-40)" textLength="10" lengthAdjust="spacingAndGlyphs">R57</text>
<text x="195.5" y="379.3" class="m" textLength="21" lengthAdjust="spacingAndGlyphs">R3416</text>
<text x="195.5" y="396.7" class="m" textLength="21" lengthAdjust="spacingAndGlyphs">R3435</text>
<text class="m" transform="translate(187,423.3) rotate(-40)" textLength="10" lengthAdjust="spacingAndGlyphs">R57</text>
<text class="m" transform="translate(155,337) rotate(-90)" font-size="7" textLength="14" lengthAdjust="spacingAndGlyphs">40 40</text>
<text class="m" transform="translate(148,424) rotate(-90)" font-size="7" textLength="14" lengthAdjust="spacingAndGlyphs">40 40</text>
</g>
<path class="r" d="M84.3,254.3 H76.7 V268.3 M196.7,254.3 H204 V268.3 M34.3,476.7 V466.7 H49 M231,466.7 H245 V476.7 M76.7,527 V541.7 H84.3 M204,565 V578 H196.7"/>
<g font-size="11">
<text x="80.5" y="262" class="m" textLength="3" lengthAdjust="spacingAndGlyphs">I</text>
<text x="199" y="262" class="m" textLength="7" lengthAdjust="spacingAndGlyphs">II</text>
<text x="40.7" y="472" class="m" textLength="9" lengthAdjust="spacingAndGlyphs">III</text>
<text x="238.3" y="472" class="m" textLength="9" lengthAdjust="spacingAndGlyphs">III</text>
<text x="80.5" y="535" class="m" textLength="3" lengthAdjust="spacingAndGlyphs">I</text>
<text x="199" y="572.7" class="m" textLength="7" lengthAdjust="spacingAndGlyphs">II</text>
</g>
<text x="144.7" y="614" class="m b" font-size="12" textLength="77" lengthAdjust="spacingAndGlyphs">立柱及预埋件侧面</text>
<path class="g" stroke-width="1.5" d="M101.7,621.7 H185"/>
<path class="g" d="M101.7,624.2 H185"/>
</g>
</svg>
</body></html>
